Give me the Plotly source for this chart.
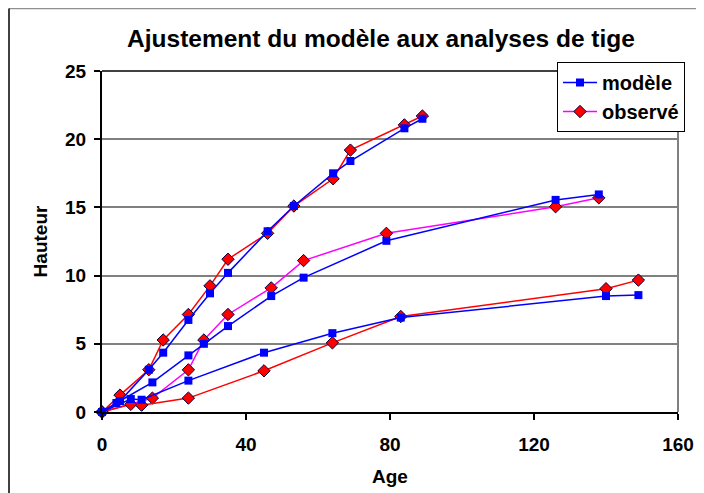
import plotly.graph_objects as go

# Tree A (tallest)
age_a = [0, 5, 13, 17, 24, 30, 35, 46, 53.3, 64.2, 69, 84, 89]
model_a = [0, 0.8, 3.1, 4.35, 6.75, 8.7, 10.2, 13.25, 15.1, 17.5, 18.4, 20.8, 21.5]
obs_a = [0, 1.24, 3.1, 5.28, 7.15, 9.25, 11.2, 13.1, 15.1, 17.1, 19.2, 21.05, 21.7]

# Tree B
age_b_model = [0, 4, 14, 24, 28.3, 35, 47, 56, 79, 126, 138]
model_b = [0, 0.66, 2.17, 4.15, 5.0, 6.3, 8.5, 9.85, 12.55, 15.55, 15.95]
age_b_obs = [0, 14, 24, 28.3, 35, 47, 56, 79, 126, 138]
obs_b = [0, 1.02, 3.09, 5.28, 7.15, 9.1, 11.1, 13.1, 15.05, 15.7]

# Tree C
age_c = [0, 8, 11, 24, 45, 64, 83, 140, 149]
model_c = [0, 0.95, 0.9, 2.3, 4.35, 5.78, 6.92, 8.5, 8.57]
obs_c = [0, 0.56, 0.5, 1.02, 3.02, 5.07, 7.0, 9.04, 9.67]

x_ticks = [0, 40, 80, 120, 160]
y_ticks = [0, 5, 10, 15, 20, 25]

FONT = "Arial, Liberation Sans, sans-serif"
BLUE = "#0000FF"
RED = "#FF0000"
MAGENTA = "#FF00FF"

# page offset of the figure inside the browser window (body margin)
OFF = 8
W, H = 704, 493
PL, PR, PT, PB = 102 - OFF, 678 - OFF, 71 - OFF, 412 - OFF  # plot area in figure px
PW, PH = PR - PL, PB - PT


def px_x(px):
    return (px - OFF - PL) / PW


def px_y(py):
    return (PB - (py - OFF)) / PH


fig = go.Figure()


def obs_trace(x, y, color, show):
    return go.Scatter(
        x=x, y=y, mode="lines+markers", name="observé", legendgroup="obs",
        showlegend=show, legendrank=2, cliponaxis=False,
        line=dict(color=color, width=1.5),
        marker=dict(symbol="diamond", size=9.5, color=RED,
                    line=dict(color="#000040", width=1)),
    )


def model_trace(x, y, show):
    return go.Scatter(
        x=x, y=y, mode="lines+markers", name="modèle", legendgroup="mod",
        showlegend=show, legendrank=1, cliponaxis=False,
        line=dict(color=BLUE, width=1.5),
        marker=dict(symbol="square", size=8, color=BLUE, line=dict(width=0)),
    )


fig.add_trace(obs_trace(age_a, obs_a, RED, False))
fig.add_trace(obs_trace(age_b_obs, obs_b, MAGENTA, True))
fig.add_trace(obs_trace(age_c, obs_c, RED, False))
fig.add_trace(model_trace(age_a, model_a, True))
fig.add_trace(model_trace(age_b_model, model_b, False))
fig.add_trace(model_trace(age_c, model_c, False))

tickfont = dict(size=19, family=FONT, weight="bold", color="black")
fig.update_layout(
    width=W, height=H,
    margin=dict(l=PL, r=W - PR, t=PT, b=H - PB, autoexpand=False),
    paper_bgcolor="white", plot_bgcolor="white",
    font=dict(family=FONT, color="black", size=16),
    title=dict(text="<b>Ajustement du modèle aux analyses de tige</b>",
               x=(381 - OFF) / W, xanchor="center", y=1 - (38 - OFF) / H, yanchor="middle",
               font=dict(size=24.5, family=FONT)),
    xaxis=dict(range=[0, 160], tickvals=x_ticks, showgrid=False,
               showline=True, linecolor="black", linewidth=2,
               ticks="outside", ticklen=6, tickwidth=1.5, tickcolor="black",
               tickfont=tickfont, zeroline=False, ticklabelstandoff=8,
               title=dict(text="<b>Age</b>", font=dict(size=19, family=FONT), standoff=16)),
    yaxis=dict(range=[0, 25], tickvals=y_ticks, showgrid=True,
               gridcolor="#808080", gridwidth=2,
               showline=True, linecolor="black", linewidth=2,
               ticks="outside", ticklen=6, tickwidth=1.5, tickcolor="black",
               tickfont=tickfont, zeroline=False, ticklabelstandoff=4,
               title=dict(text="<b>Hauteur</b>", font=dict(size=19, family=FONT), standoff=12)),
    legend=dict(x=px_x(557), y=px_y(62), xanchor="left", yanchor="top",
                bgcolor="white", bordercolor="black", borderwidth=1,
                font=dict(size=20, family=FONT, weight="bold"), tracegroupgap=0,
                itemwidth=34),
    showlegend=True,
)

# top border of plot area (darker) and right border (gray)
fig.add_shape(type="line", xref="paper", yref="paper", x0=0, x1=1, y0=1, y1=1,
              line=dict(color="#404040", width=2))
fig.add_shape(type="line", xref="paper", yref="paper", x0=1, x1=1, y0=0, y1=1,
              line=dict(color="#808080", width=2))
# outer chart border (partially cropped)
fig.add_shape(type="line", xref="paper", yref="paper",
              x0=px_x(9), x1=px_x(712), y0=px_y(8.5), y1=px_y(8.5),
              line=dict(color="#909090", width=1.5))
fig.add_shape(type="line", xref="paper", yref="paper",
              x0=px_x(9), x1=px_x(9), y0=px_y(8.5), y1=px_y(501),
              line=dict(color="black", width=1.5))

fig.write_html("out.html")
